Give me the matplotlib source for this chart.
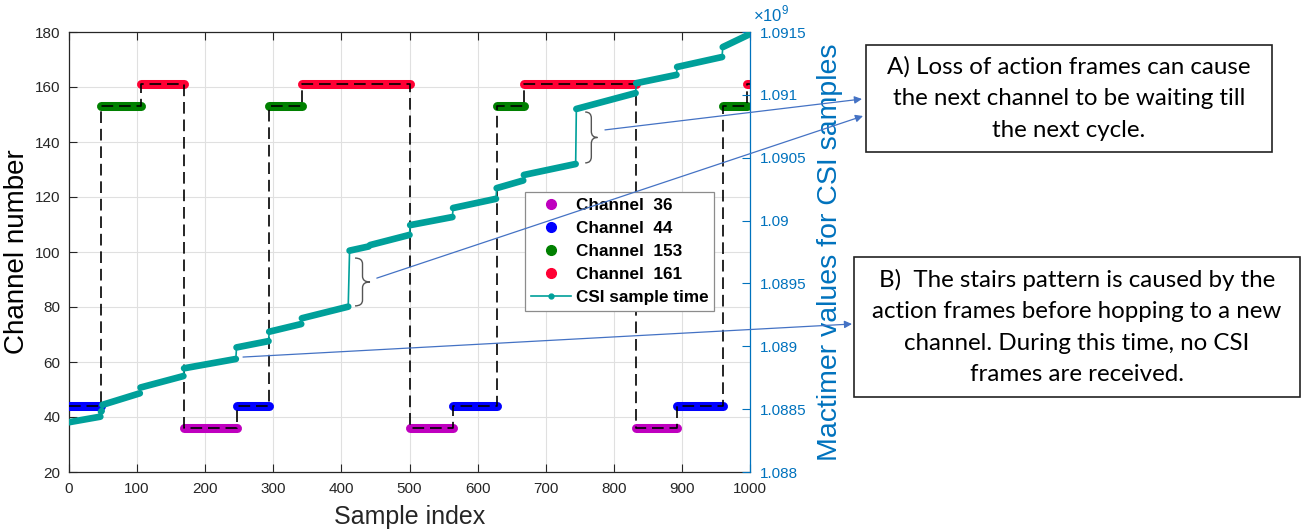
import matplotlib
matplotlib.use('Agg')
import matplotlib.pyplot as plt
from matplotlib.path import Path
from matplotlib.patches import PathPatch, Rectangle
from matplotlib.lines import Line2D
from matplotlib.ticker import FixedLocator, FuncFormatter

# ---------------- data ----------------
dwell_start = [0, 47, 105, 169, 246, 294, 342, 501, 564, 628, 668, 833, 893, 960, 995]
dwell_end = [47, 105, 169, 246, 294, 342, 501, 564, 628, 668, 833, 893, 960, 995, 1000]
dwell_channel = [44, 153, 161, 36, 44, 153, 161, 36, 44, 153, 161, 36, 44, 153, 161]

channels = [36, 44, 153, 161]
channel_labels = ['Channel  36', 'Channel  44', 'Channel  153', 'Channel  161']
channel_colors = ['#bf00bf', '#0000ff', '#008000', '#ff0033']

# CSI sample time (mactimer, x1e9), piecewise segments between stair jumps
csi_x0 = [0, 47, 49, 105, 169, 246, 294, 342, 412, 442, 501, 564, 628, 668, 745, 833, 893, 960]
csi_x1 = [46, 48, 104, 168, 245, 293, 341, 410, 440, 500, 563, 627, 667, 744, 832, 892, 959, 997]
csi_t0 = [1.088396, 1.088479, 1.088534, 1.088672, 1.088825, 1.088991, 1.089116, 1.089223,
          1.089761, 1.089805, 1.089964, 1.090100, 1.090258, 1.090363, 1.090888, 1.091093,
          1.091222, 1.091380]
csi_t1 = [1.088440, 1.088486, 1.088626, 1.088763, 1.088899, 1.089041, 1.089177, 1.089315,
          1.089794, 1.089886, 1.090028, 1.090173, 1.090319, 1.090450, 1.091014, 1.091159,
          1.091301, 1.091476]

x_ticks = [0, 100, 200, 300, 400, 500, 600, 700, 800, 900, 1000]
left_ticks = [20, 40, 60, 80, 100, 120, 140, 160, 180]
right_ticks = [1.088, 1.0885, 1.089, 1.0895, 1.09, 1.0905, 1.091, 1.0915]

text_a = "A) Loss of action frames can cause\nthe next channel to be waiting till\nthe next cycle."
text_b = "B)  The stairs pattern is caused by the\naction frames before hopping to a new\nchannel. During this time, no CSI\nframes are received."

# ---------------- style ----------------
plt.rcParams['font.family'] = ['Liberation Sans', 'DejaVu Sans']
plt.rcParams['mathtext.fontset'] = 'custom'
plt.rcParams['mathtext.rm'] = 'Liberation Sans'
TEAL = '#00a09a'
RBLUE = '#0072bd'
ARROW = '#4472c4'
DARK = '#262626'

W, H = 1302, 531
fig = plt.figure(figsize=(W / 100, H / 100), dpi=100)
ax = fig.add_axes([69 / W, 59 / H, 681 / W, 440 / H])
ax2 = ax.twinx()

# channel dwell bars
color_of = dict(zip(channels, channel_colors))
for s, e, c in zip(dwell_start, dwell_end, dwell_channel):
    ax.plot([s, e], [c, c], color=color_of[c], lw=6.5, solid_capstyle='round', zorder=3)

# dashed step line
ax.step(dwell_start + [dwell_end[-1]], dwell_channel + [dwell_channel[-1]], where='post',
        color='black', lw=1.2, dashes=(7, 3.5), zorder=4)

ax.set_xlim(0, 1000)
ax.set_ylim(20, 180)
ax.xaxis.set_major_locator(FixedLocator(x_ticks))
ax.yaxis.set_major_locator(FixedLocator(left_ticks))
ax.grid(True, color='#e0e0e0', lw=0.8)
ax.set_axisbelow(True)
ax.tick_params(axis='both', direction='in', length=6, labelsize=11, colors=DARK,
               top=True, pad=7)
ax.tick_params(axis='y', pad=6)
for side in ['left', 'bottom', 'top']:
    ax.spines[side].set_color(DARK)
    ax.spines[side].set_linewidth(0.9)
ax.spines['right'].set_visible(False)
ax.set_xlabel('Sample index', fontsize=18, color=DARK, labelpad=7)
ax.set_ylabel('Channel number', fontsize=20, color='black', labelpad=4)

# CSI sample time on right axis
path_x, path_t = [], []
for a, b, ta, tb in zip(csi_x0, csi_x1, csi_t0, csi_t1):
    path_x += [a, b]
    path_t += [ta, tb]
ax2.plot(path_x, path_t, color=TEAL, lw=1.2, zorder=2)
for a, b, ta, tb in zip(csi_x0, csi_x1, csi_t0, csi_t1):
    ax2.plot([a, b], [ta, tb], color=TEAL, lw=4.8, solid_capstyle='round', zorder=3)

ax2.set_ylim(1.088, 1.0915)
ax2.yaxis.set_major_locator(FixedLocator(right_ticks))
ax2.yaxis.set_major_formatter(FuncFormatter(lambda v, p: '%g' % round(v, 5)))
ax2.tick_params(axis='y', direction='in', length=6, labelsize=11, colors=RBLUE, pad=7)
for side in ['left', 'bottom', 'top']:
    ax2.spines[side].set_visible(False)
ax2.spines['right'].set_color(RBLUE)
ax2.spines['right'].set_linewidth(0.9)
ax2.set_ylabel('Mactimer values for CSI samples', fontsize=20.5, color=RBLUE, labelpad=8)
fig.text(753 / W, 1 - 21 / H, r'$\times10^{9}$', color=RBLUE, fontsize=12, va='baseline')

# legend
handles = [Line2D([], [], ls='none', marker='o', markersize=7, color=c) for c in channel_colors]
handles.append(Line2D([], [], color=TEAL, lw=1.2, marker='o', markersize=3.5,
                      markerfacecolor=TEAL))
leg = ax2.legend(handles, channel_labels + ['CSI sample time'], loc='upper left',
                 bbox_to_anchor=(0.67, 0.636), prop={'weight': 'bold', 'size': 12.3},
                 frameon=True, fancybox=False, framealpha=1, edgecolor='#8c8c8c',
                 handlelength=2.3, handletextpad=0.3, labelspacing=0.47,
                 borderpad=0.35, borderaxespad=0)
leg.get_frame().set_linewidth(0.9)


# braces
def brace(axis, x0, x1, y0, y1):
    xm = (x0 + x1) / 2
    ym = (y0 + y1) / 2
    q = (y1 - y0) * 0.12
    verts = [(x0, y1), (xm, y1), (xm, y1 - q), (xm, ym + q), (xm, ym), (x1, ym),
             (xm, ym), (xm, ym - q), (xm, y0 + q), (xm, y0), (x0, y0)]
    codes = [Path.MOVETO, Path.CURVE3, Path.CURVE3, Path.LINETO, Path.CURVE3, Path.CURVE3,
             Path.CURVE3, Path.CURVE3, Path.LINETO, Path.CURVE3, Path.CURVE3]
    axis.add_patch(PathPatch(Path(verts, codes), fill=False, edgecolor='#555555', lw=1.0,
                             zorder=5))


brace(ax, 420, 442, 80.4, 97.8)
brace(ax, 758, 776, 132.4, 150.9)

# annotation boxes
for (x0, y0, x1, y1), txt in [((866, 45, 1272, 152), text_a),
                              ((854, 257, 1300, 397), text_b)]:
    fig.add_artist(Rectangle((x0 / W, 1 - y1 / H), (x1 - x0) / W, (y1 - y0) / H,
                             transform=fig.transFigure, fill=False, edgecolor='#222222',
                             lw=1.2))
    fig.text((x0 + x1) / 2 / W, 1 - (y0 + y1) / 2 / H, txt, ha='center', va='center',
             fontsize=17.4, family=['Lato', 'DejaVu Sans'], linespacing=1.62,
             color='black')

# arrows
for (sx, sy), (ex, ey) in [((787, 144.4), (862, 99)), ((452, 90.5), (863, 116)),
                           ((255.5, 61.8), (852, 324))]:
    ax2.annotate('', xy=(ex / W, 1 - ey / H), xycoords='figure fraction',
                 xytext=(sx, sy), textcoords=ax.transData,
                 arrowprops=dict(arrowstyle='-|>', color=ARROW, lw=0.9, mutation_scale=11,
                                 shrinkA=0, shrinkB=0),
                 annotation_clip=False, zorder=7)

fig.savefig('out.png', dpi=100)
